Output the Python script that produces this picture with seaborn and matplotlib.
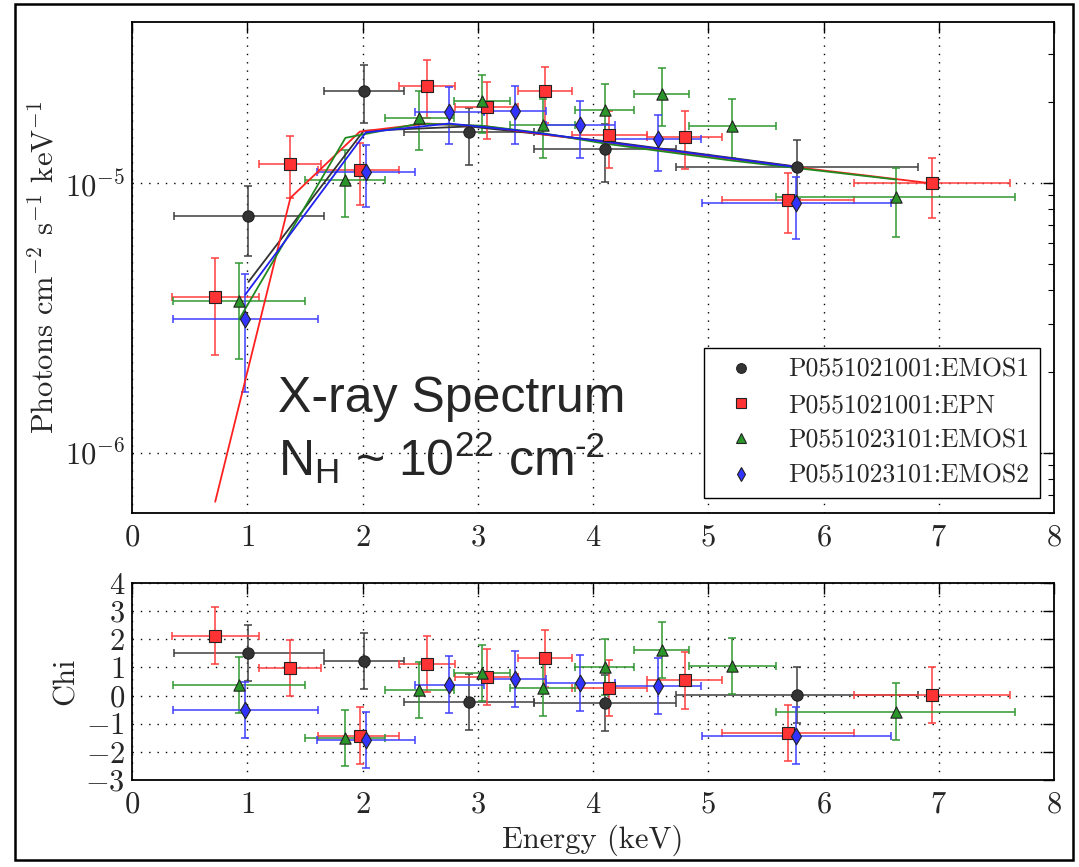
import numpy as np
import pandas as pd
import matplotlib
matplotlib.use("Agg")
import matplotlib.pyplot as plt
from matplotlib.lines import Line2D
from matplotlib.patches import Rectangle
import seaborn as sns

# ---------------- data ----------------
labels = ["P0551021001:EMOS1", "P0551021001:EPN", "P0551023101:EMOS1", "P0551023101:EMOS2"]

# series A: P0551021001:EMOS1
a_x = [1.01, 2.01, 2.925, 4.10, 5.77]
a_xlo = [0.365, 1.67, 2.36, 3.49, 4.72]
a_xhi = [1.67, 2.36, 3.49, 4.72, 6.82]
a_y = [7.57e-6, 2.2e-5, 1.54e-5, 1.34e-5, 1.15e-5]
a_ylo = [5.36e-6, 1.67e-5, 1.17e-5, 1.01e-5, 8.7e-6]
a_yhi = [9.75e-6, 2.74e-5, 1.9e-5, 1.66e-5, 1.44e-5]
a_model = [4.3e-6, 1.56e-5, 1.62e-5, 1.43e-5, 1.15e-5]
a_chi = [1.51, 1.22, -0.24, -0.26, 0.02]

# series B: P0551021001:EPN
b_x = [0.722, 1.374, 1.977, 2.562, 3.078, 3.583, 4.142, 4.794, 5.693, 6.939]
b_xlo = [0.345, 1.10, 1.615, 2.32, 2.80, 3.35, 3.817, 4.47, 5.12, 6.263]
b_xhi = [1.10, 1.643, 2.32, 2.80, 3.35, 3.817, 4.47, 5.12, 6.263, 7.615]
b_y = [3.79e-6, 1.18e-5, 1.12e-5, 2.29e-5, 1.92e-5, 2.19e-5, 1.50e-5, 1.48e-5, 8.67e-6, 9.97e-6]
b_ylo = [2.30e-6, 8.78e-6, 8.3e-6, 1.74e-5, 1.46e-5, 1.67e-5, 1.14e-5, 1.13e-5, 6.55e-6, 7.44e-6]
b_yhi = [5.28e-6, 1.49e-5, 1.41e-5, 2.86e-5, 2.36e-5, 2.7e-5, 1.85e-5, 1.84e-5, 1.09e-5, 1.24e-5]
b_model = [6.6e-7, 8.8e-6, 1.55e-5, 1.66e-5, 1.62e-5, 1.51e-5, 1.41e-5, 1.29e-5, 1.154e-5, 9.97e-6]
b_chi = [2.13, 0.99, -1.42, 1.13, 0.66, 1.32, 0.26, 0.54, -1.32, 0.01]

# series C: P0551023101:EMOS1
c_x = [0.93, 1.852, 2.493, 3.035, 3.563, 4.10, 4.60, 5.209, 6.63]
c_xlo = [0.36, 1.50, 2.195, 2.795, 3.278, 3.843, 4.354, 4.837, 5.59]
c_xhi = [1.50, 2.195, 2.795, 3.278, 3.843, 4.354, 4.832, 5.59, 7.658]
c_y = [3.66e-6, 1.03e-5, 1.74e-5, 2.02e-5, 1.64e-5, 1.86e-5, 2.14e-5, 1.63e-5, 8.85e-6]
c_ylo = [2.23e-6, 7.46e-6, 1.32e-5, 1.53e-5, 1.24e-5, 1.42e-5, 1.63e-5, 1.24e-5, 6.3e-6]
c_yhi = [5.07e-6, 1.32e-5, 2.2e-5, 2.51e-5, 2.04e-5, 2.32e-5, 2.66e-5, 2.04e-5, 1.14e-5]
c_model = [3.13e-6, 1.47e-5, 1.66e-5, 1.63e-5, 1.53e-5, 1.40e-5, 1.31e-5, 1.21e-5, 1.03e-5]
c_chi = [0.37, -1.5, 0.19, 0.8, 0.28, 1.02, 1.61, 1.04, -0.57]

# series D: P0551023101:EMOS2
d_x = [0.983, 2.029, 2.75, 3.322, 3.89, 4.565, 5.76]
d_xlo = [0.36, 1.606, 2.452, 3.05, 3.59, 4.19, 4.945]
d_xhi = [1.611, 2.452, 3.05, 3.59, 4.19, 4.94, 6.583]
d_y = [3.13e-6, 1.10e-5, 1.83e-5, 1.84e-5, 1.64e-5, 1.46e-5, 8.41e-6]
d_ylo = [1.68e-6, 8.17e-6, 1.39e-5, 1.39e-5, 1.24e-5, 1.11e-5, 6.2e-6]
d_yhi = [4.6e-6, 1.38e-5, 2.26e-5, 2.28e-5, 2.02e-5, 1.79e-5, 1.05e-5]
d_model = [3.86e-6, 1.54e-5, 1.66e-5, 1.57e-5, 1.46e-5, 1.34e-5, 1.146e-5]
d_chi = [-0.5, -1.58, 0.39, 0.6, 0.45, 0.35, -1.42]

x_ticks = [0, 1, 2, 3, 4, 5, 6, 7, 8]
chi_ticks = [-3, -2, -1, 0, 1, 2, 3, 4]

# ---------------- style ----------------
sns.set_style("white")
plt.rcParams.update({
    "font.family": "cmr10",
    "mathtext.fontset": "cm",
    "mathtext.rm": "Liberation Sans",
    "mathtext.it": "Liberation Sans:italic",
    "mathtext.bf": "Liberation Sans:bold",
    "axes.formatter.use_mathtext": True,
    "axes.unicode_minus": True,
    "axes.edgecolor": "black",
    "axes.linewidth": 1.3,
    "xtick.direction": "in",
    "ytick.direction": "in",
})

series = [
    dict(x=a_x, xlo=a_xlo, xhi=a_xhi, y=a_y, ylo=a_ylo, yhi=a_yhi, m=a_model, chi=a_chi,
         color="#333333", ecol="#404040", mk="o", s=66),
    dict(x=b_x, xlo=b_xlo, xhi=b_xhi, y=b_y, ylo=b_ylo, yhi=b_yhi, m=b_model, chi=b_chi,
         color="#ff3333", ecol="#ff4040", mk="s", s=64),
    dict(x=c_x, xlo=c_xlo, xhi=c_xhi, y=c_y, ylo=c_ylo, yhi=c_yhi, m=c_model, chi=c_chi,
         color="#2a962a", ecol="#339933", mk="^", s=66),
    dict(x=d_x, xlo=d_xlo, xhi=d_xhi, y=d_y, ylo=d_ylo, yhi=d_yhi, m=d_model, chi=d_chi,
         color="#3333ff", ecol="#4040ff", mk="d", s=72),
]
line_cols = ["#333333", "#ff2020", "#208a20", "#2020ee"]

W, H = 1079, 867
fig = plt.figure(figsize=(W / 100, H / 100), dpi=100)
L, R = 132, 1054
ax1 = fig.add_axes([L / W, 1 - 513 / H, (R - L) / W, (513 - 22) / H])
ax2 = fig.add_axes([L / W, 1 - 780 / H, (R - L) / W, (780 - 583) / H])

ax1.set_yscale("log")
ax1.set_ylim(10 ** (-6 - 60 / 270), 10 ** (-5 + 161 / 270))
ax1.set_xlim(0, 8)
ax2.set_xlim(0, 8)
ax2.set_ylim(-3, 4)

for sd, lc in zip(series, line_cols):
    x = np.array(sd["x"])
    xerr = [x - np.array(sd["xlo"]), np.array(sd["xhi"]) - x]
    y = np.array(sd["y"])
    yerr = [y - np.array(sd["ylo"]), np.array(sd["yhi"]) - y]
    ax1.errorbar(x, y, xerr=xerr, yerr=yerr, fmt="none", ecolor=sd["ecol"],
                 elinewidth=1.3, capsize=3.2, capthick=1.3, alpha=0.85, zorder=2)
    df = pd.DataFrame({"E": x, "model": sd["m"], "flux": y, "chi": sd["chi"]})
    sns.lineplot(data=df, x="E", y="model", color=lc, lw=1.3, sort=False,
                 estimator=None, ax=ax1, zorder=3, legend=False)
    sns.scatterplot(data=df, x="E", y="flux", marker=sd["mk"], color=sd["color"],
                    edgecolor="#222222", linewidth=0.8, s=sd["s"], ax=ax1, zorder=4,
                    legend=False)
    ax2.errorbar(x, df["chi"], xerr=xerr, yerr=1.0, fmt="none", ecolor=sd["ecol"],
                 elinewidth=1.3, capsize=3.2, capthick=1.3, alpha=0.85, zorder=2)
    sns.scatterplot(data=df, x="E", y="chi", marker=sd["mk"], color=sd["color"],
                    edgecolor="#222222", linewidth=0.8, s=sd["s"], ax=ax2, zorder=4,
                    legend=False)

grid_kw = dict(color="black", linestyle=(0, (1, 5)), linewidth=1.0)
for ax in (ax1, ax2):
    ax.set_xticks(x_ticks)
    ax.grid(True, which="major", **grid_kw)
    ax.tick_params(which="both", direction="in", top=True, right=True,
                   labelsize=22, color="black")
    ax.tick_params(which="major", length=8, width=1.0, pad=8)
    ax.tick_params(axis="y", which="major", pad=5)
    ax.tick_params(which="minor", length=4, width=0.8)
    ax.xaxis.set_minor_locator(matplotlib.ticker.NullLocator())
    for sp in ax.spines.values():
        sp.set_linewidth(1.3)
        sp.set_color("black")

ax1.set_yticks([1e-6, 1e-5])
ax1.yaxis.set_minor_locator(matplotlib.ticker.LogLocator(base=10, subs=np.arange(2, 10)))
ax1.yaxis.set_minor_formatter(matplotlib.ticker.NullFormatter())
ax2.set_yticks(chi_ticks)

ax1.set_xlabel("")
ax1.set_ylabel(r"Photons cm$^{-2}$ s$^{-1}$ keV$^{-1}$", fontsize=22, labelpad=4)
ax2.set_xlabel("Energy (keV)", fontsize=22, labelpad=4)
ax2.set_ylabel("Chi", fontsize=22)

# annotation
ann_fs = 36
ax1.text(0.158, 0.205, "X-ray Spectrum", transform=ax1.transAxes,
         family="Liberation Sans", fontsize=ann_fs, ha="left", va="baseline")
t2 = ax1.text(0.158, 0.076, r"N$_\mathrm{H}$ ~ 10$^{22}$ cm", transform=ax1.transAxes,
              family="Liberation Sans", math_fontfamily="custom", fontsize=ann_fs,
              ha="left", va="baseline")
fig.canvas.draw()
bb = t2.get_window_extent()
bx, by = ax1.transAxes.transform((0.158, 0.076))
fig.text((bb.x1 + 1) / fig.bbox.width, (by + 19) / fig.bbox.height, "-2",
         family="Liberation Sans", fontsize=ann_fs * 0.7, ha="left", va="baseline")

# legend
handles = [Line2D([], [], ls="none", marker=sd["mk"], markerfacecolor=sd["color"],
                  markeredgecolor="#222222", markeredgewidth=0.8, markersize=7)
           for sd in series]
leg = ax1.legend(handles, labels, loc="lower right",
                 bbox_to_anchor=((1040 - L) / (R - L), (513 - 498) / 491),
                 borderaxespad=0, fontsize=18.5, frameon=True, fancybox=False,
                 edgecolor="black", framealpha=1, handlelength=2.08,
                 handletextpad=0.82, borderpad=0.4, labelspacing=0.45, numpoints=1)
leg.get_frame().set_linewidth(1.0)
leg.set_zorder(10)

# outer frame
fig.patches.append(Rectangle((15 / W, 1 - 860 / H), (1073 - 15) / W, (860 - 4) / H,
                             transform=fig.transFigure, fill=False, lw=1.8,
                             edgecolor="black"))

fig.savefig("out.png", dpi=100)
